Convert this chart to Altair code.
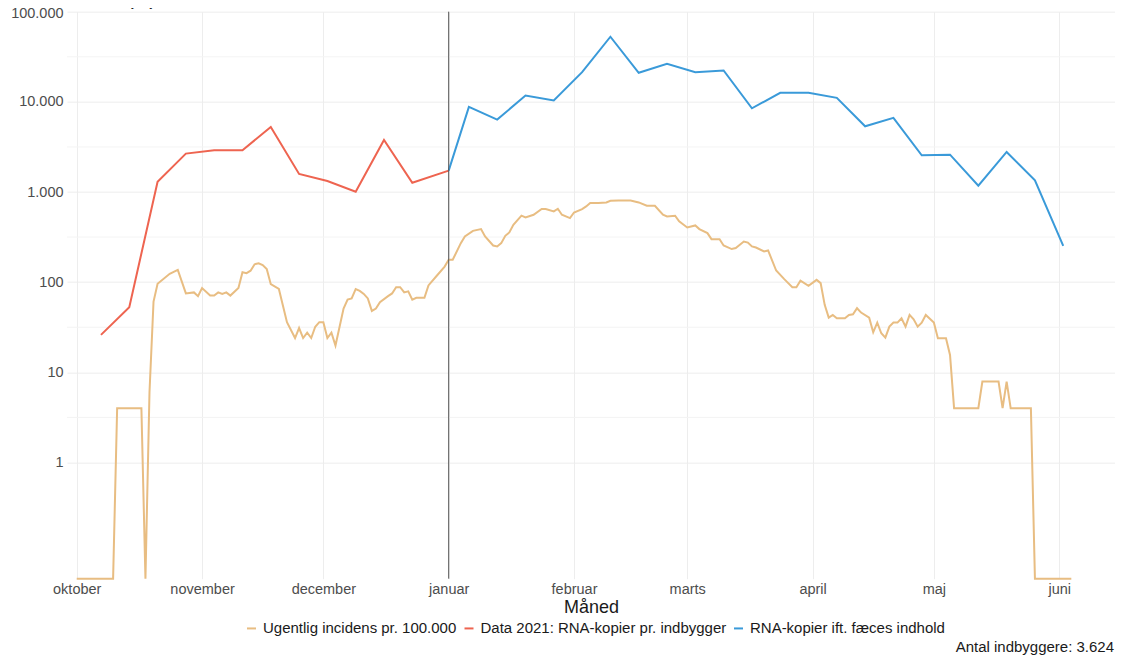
import altair as alt
import pandas as pd

# ---------------- data ----------------
START = "2020-10-01"

# weekly incidence per 100.000 (daily values, day offset from START)
inc_day = [0, 9, 10, 16, 17, 18, 19, 20, 23, 25, 27, 29, 30, 31, 33, 34, 35, 36, 37, 38,
           40, 41, 42, 43, 44, 45, 46, 47, 48, 50, 52, 54, 55, 56, 57, 58, 59, 60, 61, 62,
           63, 64, 66, 67, 68, 69, 70, 71, 72, 73, 74, 75, 77, 78, 79, 80, 81, 82, 83, 84,
           86, 87, 89, 91, 92, 93, 95, 96, 98, 100, 101, 103, 104, 105, 106, 107, 108, 110, 111, 113,
           115, 116, 118, 119, 120, 122, 123, 125, 126, 127, 129, 131, 132, 134, 137, 139, 141, 143, 145, 146,
           148, 149, 151, 153, 154, 156, 157, 159, 160, 162, 163, 165, 166, 167, 168, 170, 171, 173, 175, 177,
           178, 179, 181, 183, 184, 185, 186, 187, 188, 190, 191, 192, 193, 194, 196, 197, 198, 199, 200, 201,
           202, 203, 204, 205, 206, 207, 208, 209, 210, 212, 213, 215, 216, 217, 223, 224, 228, 229, 230, 231,
           236, 237, 246]
inc_val = [0, 0, 4, 4, 0, 6, 61, 96, 124, 137, 75, 77, 70, 86, 71, 71, 77, 74, 77, 71,
           86, 129, 126, 134, 158, 162, 155, 140, 95, 84, 36, 24, 31, 24, 27.5, 24, 32, 36, 36, 24,
           27.5, 19.8, 51, 64, 66, 84, 80, 74, 66, 48, 51, 60, 70, 75, 88, 88, 77, 79, 64, 67,
           67, 92, 117, 149, 177, 177, 271, 321, 371, 388, 321, 255, 249, 271, 327, 356, 433, 546, 522, 559,
           647, 647, 609, 652, 559, 514, 593, 647, 692, 755, 755, 766, 800, 806, 806, 766, 704, 704, 559, 536,
           546, 472, 404, 426, 388, 350, 300, 300, 255, 233, 239, 282, 275, 249, 242, 219, 225, 134.5, 108, 88,
           88, 104, 91, 106, 97.5, 56, 40.4, 43.3, 39.8, 39.8, 43.3, 44, 51.4, 46, 40.4, 27.8, 35.6, 27.1, 24.2, 32.1,
           35.6, 35.6, 39.8, 32.1, 43.3, 38.8, 32.1, 35.6, 43.3, 35.6, 23.9, 23.9, 15.6, 4, 4, 7.9, 7.9, 4, 7.9, 4,
           4, 0, 0]

# RNA copies per inhabitant (2021 data)
red_dates = ["2020-10-07", "2020-10-14", "2020-10-21", "2020-10-28", "2020-11-04", "2020-11-11",
             "2020-11-18", "2020-11-25", "2020-12-02", "2020-12-09", "2020-12-16", "2020-12-23",
             "2021-01-01"]
red_vals = [26, 52.7, 1301, 2665, 2897, 2897, 5275, 1585, 1325, 1007, 3783, 1268, 1725]

# RNA copies relative to faeces content
blue_dates = ["2021-01-01", "2021-01-06", "2021-01-13", "2021-01-20", "2021-01-27", "2021-02-03",
              "2021-02-10", "2021-02-17", "2021-02-24", "2021-03-03", "2021-03-10", "2021-03-17",
              "2021-03-24", "2021-03-31", "2021-04-07", "2021-04-14", "2021-04-21", "2021-04-28",
              "2021-05-05", "2021-05-12", "2021-05-19", "2021-05-26", "2021-06-02"]
blue_vals = [1725, 8790, 6360, 11750, 10350, 21330, 52750, 21000, 26430, 21330, 22280, 8490,
             12590, 12590, 11070, 5355, 6640, 2550, 2595, 1175, 2783, 1345, 253]

S_INC = "Ugentlig incidens pr. 100.000"
S_RED = "Data 2021: RNA-kopier pr. indbygger"
S_BLUE = "RNA-kopier ift. fæces indhold"
series_names = [S_INC, S_RED, S_BLUE]
series_colors = ["#E8BD82", "#EE6450", "#3A9AD9"]

y_major = [1, 10, 100, 1000, 10000, 100000]
y_minor = [3.16, 31.6, 316, 3162, 31623]
month_names = ["januar", "februar", "marts", "april", "maj", "juni", "juli", "august",
               "september", "oktober", "november", "december"]
month_ticks = [(2020, 10), (2020, 11), (2020, 12), (2021, 1), (2021, 2), (2021, 3),
               (2021, 4), (2021, 5), (2021, 6)]
vline_date = ["2021-01-01"]
caption = "Antal indbyggere: 3.624"
title_text = "Hanstholm (K)"

# ---------------- tables ----------------
inc_dates = (pd.Timestamp(START) + pd.to_timedelta(inc_day, unit="D")).strftime("%Y-%m-%d")
df = pd.concat([
    pd.DataFrame({"date": list(inc_dates), "value": inc_val, "series": S_INC}),
    pd.DataFrame({"date": red_dates, "value": red_vals, "series": S_RED}),
    pd.DataFrame({"date": blue_dates, "value": blue_vals, "series": S_BLUE}),
], ignore_index=True)

FONT = "Liberation Sans"
W, H = 1048, 567
Y_MIN, Y_MAX = 0.0514, 100000

x_scale = alt.Scale(type="utc",
                    domain=[alt.DateTime(year=2020, month=9, date=28, hours=14, minutes=24, utc=True),
                            alt.DateTime(year=2021, month=6, date=14, hours=19, minutes=12, utc=True)])
y_scale = alt.Scale(type="log", domain=[Y_MIN, Y_MAX], nice=False, clamp=True)

x_axis = alt.Axis(
    values=[alt.DateTime(year=yy, month=mm, date=1, utc=True) for yy, mm in month_ticks],
    labelExpr="%s[utcmonth(datum.value)]" % str(month_names),
    title="Måned", titleFontSize=18, titleColor="#1a1a1a", titleFont=FONT,
    titleFontWeight="normal", titlePadding=2,
    labelFont=FONT, labelFontSize=14.5, labelColor="#4D4D4D", labelPadding=4,
    ticks=False, domain=False, grid=True, gridColor="#EDEDED", gridWidth=1,
    labelFlush=False, labelOverlap=False,
)
y_axis = alt.Axis(
    values=y_major,
    labelExpr="replace(format(datum.value, ','), ',', '.')",
    labelOffset={"condition": {"test": "datum.value >= 100000", "value": 2}, "value": 0},
    title=None, labelFont=FONT, labelFontSize=14.5, labelColor="#4D4D4D", labelPadding=4,
    ticks=False, domain=False, grid=True, gridColor="#EDEDED", gridWidth=1,
    labelOverlap=False, labelFlush=False,
)

minor = alt.Chart(pd.DataFrame({"v": y_minor})).mark_rule(
    color="#F4F4F4", strokeWidth=1
).encode(y=alt.Y("v:Q", scale=y_scale, axis=y_axis))

lines = alt.Chart(df).transform_calculate(
    plotted=f"max(datum.value, {Y_MIN})"
).mark_line(strokeWidth=2, interpolate="linear").encode(
    x=alt.X("date:T", scale=x_scale, axis=x_axis),
    y=alt.Y("plotted:Q", scale=y_scale, axis=y_axis),
    color=alt.Color("series:N",
                    scale=alt.Scale(domain=series_names, range=series_colors),
                    sort=series_names,
                    legend=alt.Legend(title=None, orient="none", direction="horizontal",
                                      legendX=177, legendY=609, symbolType="stroke",
                                      symbolStrokeWidth=2, symbolSize=81, labelFont=FONT,
                                      labelFontSize=15, labelColor="#1a1a1a", labelOffset=4,
                                      columnPadding=3.5, padding=0, labelLimit=400)),
    detail="series:N",
    order=alt.Order("date:T"),
)

vline = alt.Chart(pd.DataFrame({"d": vline_date})).mark_rule(
    color="#555555", strokeWidth=1
).encode(x=alt.X("d:T", scale=x_scale, axis=x_axis))

cap = alt.Chart(pd.DataFrame({"t": [caption]})).mark_text(
    align="right", baseline="middle", font=FONT, fontSize=15, color="#1a1a1a"
).encode(text="t:N", x=alt.value(W - 1), y=alt.value(H + 68.5))

ttl = alt.Chart(pd.DataFrame({"t": [title_text]})).mark_text(
    align="left", baseline="alphabetic", font=FONT, fontSize=23, color="#1a1a1a"
).encode(text="t:N", x=alt.value(-57), y=alt.value(-7.7))

chart = alt.layer(minor, lines, vline, cap, ttl).properties(
    width=W, height=H,
    autosize=alt.AutoSizeParams(type="none"),
    padding={"left": 59, "top": 3.7, "right": 0, "bottom": 78},
    background="white",
).configure_view(strokeWidth=0)

chart.save("out.html", embed_options={"renderer": "svg", "actions": False})
